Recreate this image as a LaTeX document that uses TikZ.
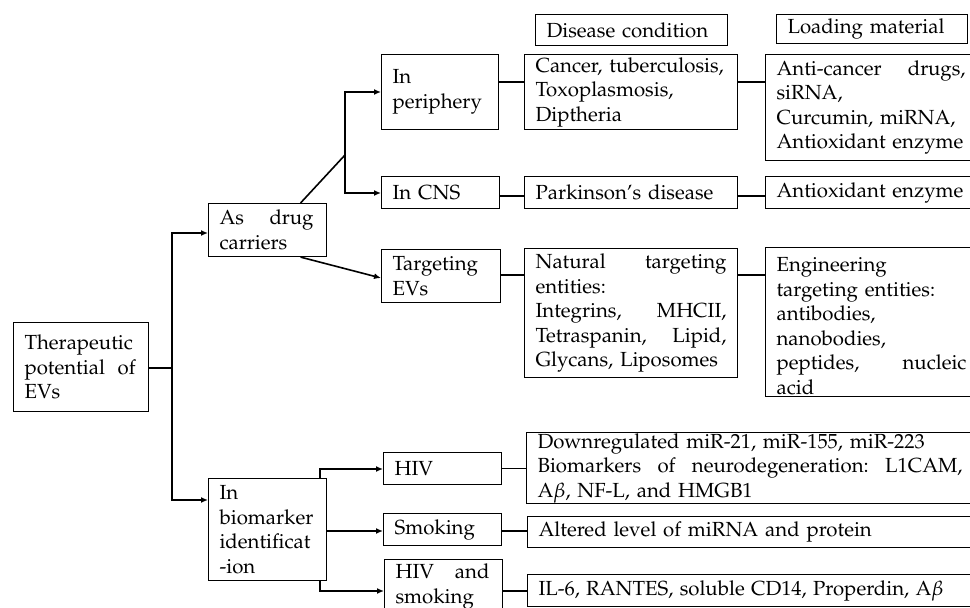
\documentclass[tikz,border=0pt]{standalone}
\usepackage[T1]{fontenc}
\usepackage{mathpazo}
\usetikzlibrary{arrows.meta}
\newcommand\jst[2]{\makebox[#1][s]{\frenchspacing\spaceskip=0.25em plus 1fil\xspaceskip=0.25em plus 1fil\relax #2}}
\tikzset{
  bx/.style={draw, line width=1.1pt, anchor=north west, inner xsep=11pt, inner ysep=0pt,
    align=left, font=\fontsize{20.4}{24.5}\selectfont},
  con/.style={line width=1.6pt},
  arr/.style={con, -{Latex[length=7pt,width=6pt]}},
}
\begin{document}
\begin{tikzpicture}[x=1pt,y=-1pt]
\fill[white] (0,0) rectangle (970,608);
\path[use as bounding box, clip] (0,0) rectangle (970,608);

% left column
\node[bx, minimum width=135pt, minimum height=89pt, text width=113pt] (ther) at (13,322)
  {Therapeutic\\ \jst{111pt}{potential of}\\ EVs};
\node[bx, minimum width=118pt, minimum height=53pt, text width=96pt] (drug) at (208,203)
  {\jst{94pt}{As drug}\\ carriers};
\node[bx, minimum width=118pt, minimum height=102pt, text width=96pt] (bio) at (208,478)
  {In\\ biomarker\\ identificat\\ -ion};

% second column
\node[bx, minimum width=117pt, minimum height=75pt, text width=95pt] (peri) at (381,54)
  {In\\ periphery};
\node[bx, minimum width=118pt, minimum height=32pt, text width=96pt] (cns) at (381,176)
  {In CNS};
\node[bx, minimum width=119pt, minimum height=53pt, text width=97pt] (targ) at (381,249)
  {Targeting\\ EVs};
\node[bx, minimum width=118pt, minimum height=32pt, text width=96pt] (hiv) at (383,452)
  {HIV};
\node[bx, minimum width=118pt, minimum height=32pt, text width=96pt] (smok) at (383,513)
  {Smoking};
\node[bx, minimum width=118pt, minimum height=54pt, text width=96pt] (hivs) at (384,559)
  {\jst{94pt}{HIV and}\\ smoking};

% headers
\node[bx, minimum width=192pt, minimum height=31pt, text width=170pt] (dish) at (535,14)
  {Disease condition};
\node[bx, minimum width=191pt, minimum height=29pt, text width=169pt] (loadh) at (776,14)
  {Loading material};

% disease column
\node[bx, minimum width=213pt, minimum height=75pt, text width=191pt] (cancer) at (524,54)
  {Cancer, tuberculosis,\\ Toxoplasmosis,\\ Diptheria};
\node[bx, minimum width=213pt, minimum height=32pt, text width=191pt] (park) at (524,176)
  {Parkinson's disease};
\node[bx, minimum width=213pt, minimum height=129pt, text width=191pt] (nat) at (524,248)
  {\jst{191pt}{Natural targeting}\\ entities:\\ \jst{191pt}{Integrins, MHCII,}\\ \jst{191pt}{Tetraspanin, Lipid,}\\ Glycans, Liposomes};

% loading column
\node[bx, minimum width=211pt, minimum height=106pt, text width=189pt] (anti) at (765,54)
  {\jst{189pt}{Anti-cancer drugs,}\\ siRNA,\\ Curcumin, miRNA,\\ \mbox{Antioxidant enzyme}};
\node[bx, minimum width=211pt, minimum height=32pt, text width=189pt] (antiox) at (765,176)
  {\mbox{Antioxidant enzyme}};
\node[bx, minimum width=212pt, minimum height=149pt, text width=190pt] (eng) at (765,247)
  {\rule{0pt}{22pt}Engineering\\ targeting entities:\\ antibodies,\\ nanobodies,\\ \jst{190pt}{peptides, nucleic}\\ acid};

% biomarker results
\node[bx, minimum width=447pt, minimum height=71pt, text width=425pt] (down) at (526,432)
  {\mbox{Downregulated miR-21, miR-155, miR-223}\\ \jst{425pt}{Biomarkers of neurodegeneration: L1CAM,}\\ A$\beta$, NF-L, and HMGB1};
\node[bx, minimum width=447pt, minimum height=31pt, text width=425pt] (alt) at (527,516)
  {Altered level of miRNA and protein};
\node[bx, minimum width=447pt, minimum height=32pt, text width=425pt] (il6) at (527,574)
  {\jst{405pt}{IL-6, RANTES, soluble CD14, Properdin, A$\beta$}};

% connectors from root
\coordinate (j0) at (172,368);
\coordinate (j1) at (172,233);
\coordinate (j2) at (172,500);
\draw[con] (ther.east |- j0) -- (j0);
\draw[arr] (j2) -- (j1) -- (drug.west |- j1);
\draw[arr] (j1) -- (j2) -- (bio.west |- j2);

% drug carriers branches
\coordinate (k0) at (345,155);
\coordinate (k1) at (345,92);
\coordinate (k2) at (345,193);
\coordinate (t1) at (0,278);
\draw[con] ([xshift=33pt]drug.north) -- (k0);
\draw[arr] (k2) -- (k1) -- (peri.west |- k1);
\draw[arr] (k1) -- (k2) -- (cns.west |- k2);
\draw[arr] ([xshift=33pt]drug.south) -- (targ.west |- t1);

% horizontal links
\coordinate (r1) at (0,82);
\coordinate (r2) at (0,196);
\coordinate (r3) at (0,275);
\draw[con] (peri.east |- r1) -- (cancer.west |- r1);
\draw[con] (cancer.east |- r1) -- (anti.west |- r1);
\draw[con] (cns.east |- r2) -- (park.west |- r2);
\draw[con] (park.east |- r2) -- (antiox.west |- r2);
\draw[con] (targ.east |- r3) -- (nat.west |- r3);
\draw[con] (nat.east |- r3) -- (eng.west |- r3);

% biomarker branches
\coordinate (b1) at (320,469);
\coordinate (b2) at (0,531);
\coordinate (b3) at (320,591);
\draw[arr] (b1 |- bio.north) -- (b1) -- (hiv.west |- b1);
\draw[arr] (bio.east |- b2) -- (smok.west |- b2);
\draw[arr] (b3 |- bio.south) -- (b3) -- (hivs.west |- b3);
\draw[con] (hiv.east) -- (down.west |- hiv.east);
\draw[con] (smok.east |- b2) -- (alt.west |- b2);
\draw[con] (hivs.east |- b3) -- (il6.west |- b3);
\end{tikzpicture}
\end{document}
